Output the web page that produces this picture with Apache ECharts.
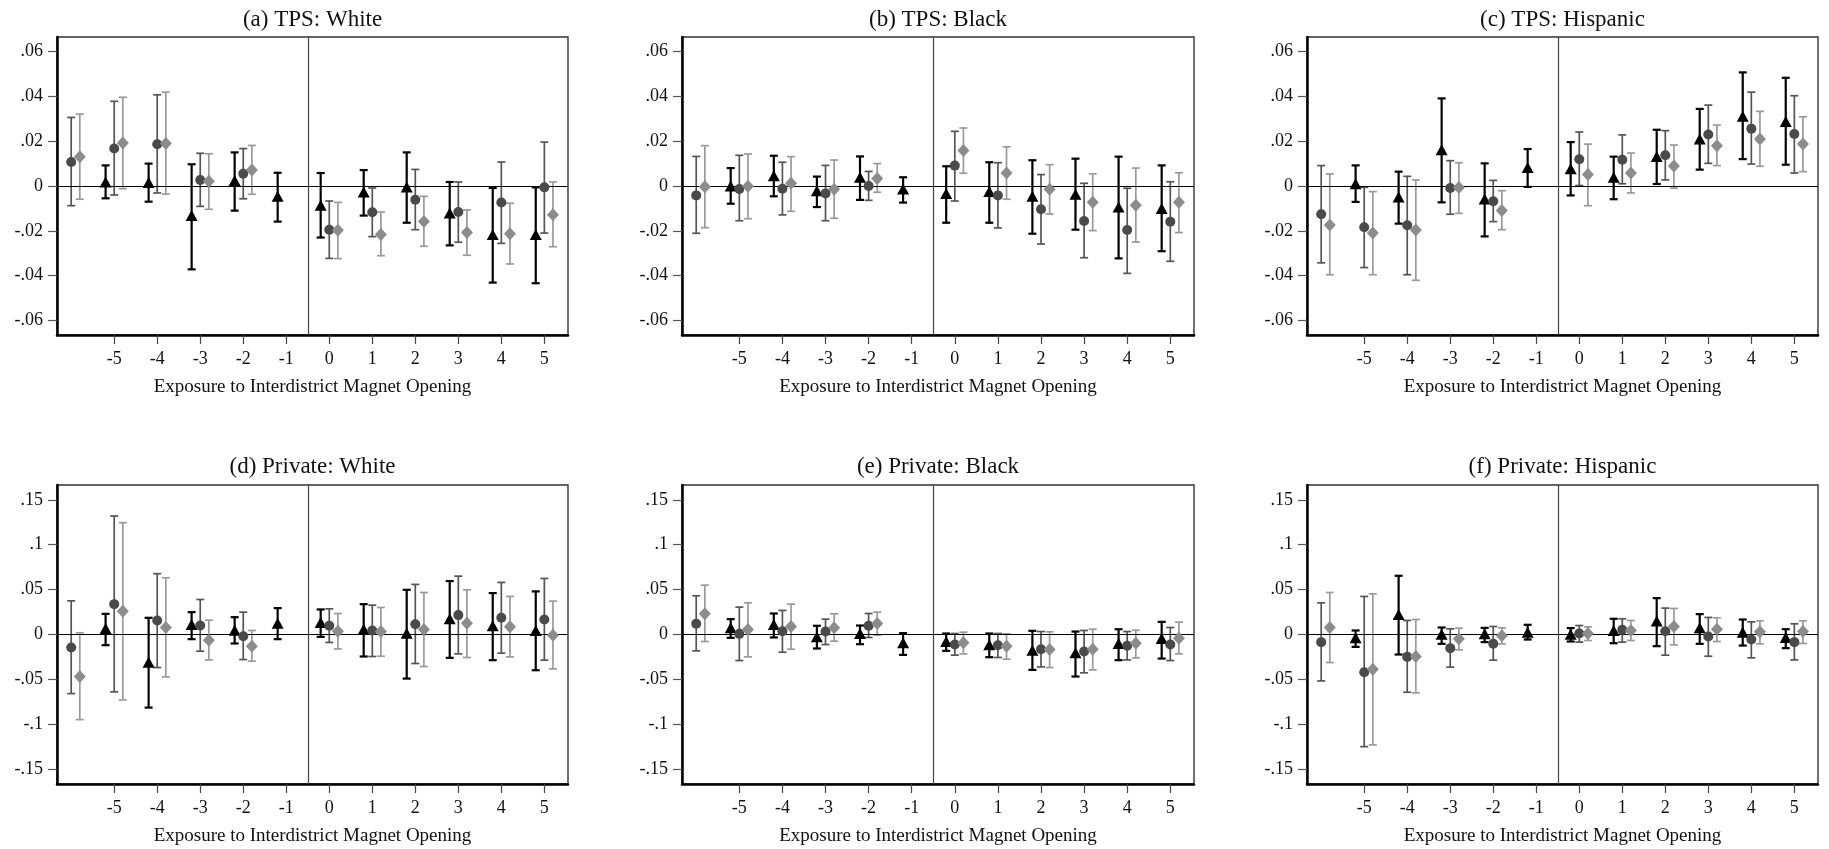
<!DOCTYPE html>
<html>
<head>
<meta charset="utf-8">
<script src="https://cdn.jsdelivr.net/npm/echarts@6/dist/echarts.min.js"></script>
<style>
html,body{margin:0;padding:0;background:#fff;}
#chart{width:1829px;height:849px;}
</style>
</head>
<body>
<div id="chart"></div>
<script>
// Event time for every array entry below
const times = [-6,-5,-4,-3,-2,-1,0,1,2,3,4,5];
const xTicks = [-5,-4,-3,-2,-1,0,1,2,3,4,5];
const yTicksTop = [-0.06,-0.04,-0.02,0,0.02,0.04,0.06];
const yTicksBottom = [-0.15,-0.1,-0.05,0,0.05,0.1,0.15];
const titles = ['(a) TPS: White','(b) TPS: Black','(c) TPS: Hispanic','(d) Private: White','(e) Private: Black','(f) Private: Hispanic'];
const xName = 'Exposure to Interdistrict Magnet Opening';

// Panel (a) TPS: White
const aTriEst = [null,0.0018,0.0016,-0.0132,0.0024,-0.0046,-0.0086,-0.0027,-0.0004,-0.0120,-0.0217,-0.0216];
const aTriLo  = [null,-0.0055,-0.0070,-0.0372,-0.0110,-0.0159,-0.0230,-0.0132,-0.0164,-0.0265,-0.0431,-0.0434];
const aTriHi  = [null,0.0092,0.0100,0.0097,0.0150,0.0059,0.0058,0.0071,0.0150,0.0018,-0.0009,-0.0006];
const aCirEst = [0.0107,0.0167,0.0186,0.0027,0.0055,null,-0.0195,-0.0117,-0.0061,-0.0116,-0.0074,-0.0006];
const aCirLo  = [-0.0088,-0.0040,-0.0031,-0.0091,-0.0057,null,-0.0323,-0.0226,-0.0195,-0.0251,-0.0256,-0.0210];
const aCirHi  = [0.0306,0.0378,0.0407,0.0146,0.0167,null,-0.0067,-0.0009,0.0074,0.0018,0.0107,0.0196];
const aDiaEst = [0.0131,0.0192,0.0190,0.0021,0.0071,null,-0.0198,-0.0216,-0.0158,-0.0207,-0.0213,-0.0128];
const aDiaLo  = [-0.0059,-0.0012,-0.0036,-0.0104,-0.0037,null,-0.0324,-0.0311,-0.0269,-0.0309,-0.0348,-0.0271];
const aDiaHi  = [0.0321,0.0396,0.0419,0.0144,0.0181,null,-0.0073,-0.0116,-0.0046,-0.0107,-0.0077,0.0018];

// Panel (b) TPS: Black
const bTriEst = [null,0.0000,0.0046,-0.0021,0.0039,-0.0013,-0.0034,-0.0024,-0.0046,-0.0037,-0.0094,-0.0100];
const bTriLo  = [null,-0.0079,-0.0046,-0.0094,-0.0062,-0.0074,-0.0164,-0.0164,-0.0213,-0.0195,-0.0323,-0.0291];
const bTriHi  = [null,0.0080,0.0135,0.0042,0.0132,0.0039,0.0088,0.0106,0.0115,0.0122,0.0131,0.0092];
const bCirEst = [-0.0042,-0.0013,-0.0012,-0.0033,0.0000,null,0.0091,-0.0042,-0.0104,-0.0156,-0.0196,-0.0159];
const bCirLo  = [-0.0211,-0.0155,-0.0129,-0.0155,-0.0064,null,-0.0067,-0.0187,-0.0259,-0.0320,-0.0390,-0.0336];
const bCirHi  = [0.0132,0.0137,0.0106,0.0092,0.0065,null,0.0244,0.0104,0.0051,0.0012,-0.0010,0.0019];
const bDiaEst = [-0.0003,-0.0001,0.0012,-0.0015,0.0034,null,0.0158,0.0058,-0.0015,-0.0073,-0.0086,-0.0073];
const bDiaLo  = [-0.0186,-0.0146,-0.0113,-0.0144,-0.0028,null,0.0057,-0.0059,-0.0125,-0.0199,-0.0250,-0.0208];
const bDiaHi  = [0.0180,0.0143,0.0131,0.0116,0.0100,null,0.0259,0.0175,0.0095,0.0054,0.0080,0.0059];

// Panel (c) TPS: Hispanic
const cTriEst = [null,0.0010,-0.0049,0.0162,-0.0058,0.0083,0.0077,0.0039,0.0132,0.0210,0.0311,0.0288];
const cTriLo  = [null,-0.0071,-0.0168,-0.0073,-0.0225,-0.0004,-0.0042,-0.0059,0.0009,0.0073,0.0120,0.0095];
const cTriHi  = [null,0.0092,0.0064,0.0391,0.0101,0.0165,0.0196,0.0131,0.0251,0.0344,0.0507,0.0483];
const cCirEst = [-0.0126,-0.0184,-0.0175,-0.0009,-0.0068,null,0.0119,0.0117,0.0137,0.0230,0.0256,0.0232];
const cCirLo  = [-0.0343,-0.0364,-0.0396,-0.0126,-0.0159,null,0.0002,0.0010,0.0027,0.0101,0.0098,0.0058];
const cCirHi  = [0.0091,-0.0006,0.0043,0.0113,0.0025,null,0.0241,0.0228,0.0247,0.0361,0.0419,0.0403];
const cDiaEst = [-0.0174,-0.0210,-0.0196,-0.0007,-0.0109,null,0.0051,0.0058,0.0089,0.0180,0.0210,0.0187];
const cDiaLo  = [-0.0396,-0.0396,-0.0421,-0.0122,-0.0195,null,-0.0088,-0.0031,-0.0010,0.0091,0.0088,0.0064];
const cDiaHi  = [0.0054,-0.0025,0.0027,0.0104,-0.0021,null,0.0187,0.0147,0.0183,0.0272,0.0333,0.0309];

// Panel (d) Private: White
const dTriEst = [null,0.0067,-0.0309,0.0112,0.0048,0.0126,0.0134,0.0059,0.0015,0.0175,0.0097,0.0045];
const dTriLo  = [null,-0.0119,-0.0814,-0.0052,-0.0100,-0.0052,-0.0026,-0.0245,-0.0491,-0.0260,-0.0286,-0.0398];
const dTriHi  = [null,0.0230,0.0186,0.0249,0.0193,0.0294,0.0279,0.0338,0.0498,0.0595,0.0461,0.0480];
const dCirEst = [-0.0145,0.0338,0.0156,0.0100,-0.0019,null,0.0097,0.0045,0.0115,0.0216,0.0186,0.0167];
const dCirLo  = [-0.0658,-0.0639,-0.0368,-0.0186,-0.0279,null,-0.0089,-0.0245,-0.0323,-0.0216,-0.0208,-0.0286];
const dCirHi  = [0.0375,0.1320,0.0677,0.0390,0.0249,null,0.0286,0.0327,0.0558,0.0650,0.0580,0.0624];
const dDiaEst = [-0.0468,0.0260,0.0078,-0.0063,-0.0130,null,0.0037,0.0033,0.0056,0.0126,0.0085,-0.0007];
const dDiaLo  = [-0.0948,-0.0729,-0.0472,-0.0283,-0.0297,null,-0.0160,-0.0242,-0.0357,-0.0256,-0.0249,-0.0383];
const dDiaHi  = [0.0019,0.1245,0.0632,0.0160,0.0045,null,0.0234,0.0301,0.0468,0.0498,0.0424,0.0372];

// Panel (e) Private: Black
const eTriEst = [null,0.0074,0.0112,-0.0026,0.0011,-0.0093,-0.0078,-0.0115,-0.0175,-0.0204,-0.0100,-0.0045];
const eTriLo  = [null,-0.0037,-0.0033,-0.0156,-0.0108,-0.0227,-0.0182,-0.0253,-0.0394,-0.0468,-0.0286,-0.0268];
const eTriHi  = [null,0.0171,0.0234,0.0097,0.0100,0.0015,0.0011,0.0011,0.0041,0.0033,0.0059,0.0141];
const eCirEst = [0.0119,0.0007,0.0037,0.0033,0.0097,null,-0.0112,-0.0119,-0.0164,-0.0190,-0.0126,-0.0112];
const eCirLo  = [-0.0182,-0.0290,-0.0197,-0.0112,-0.0033,null,-0.0230,-0.0256,-0.0361,-0.0427,-0.0283,-0.0290];
const eCirHi  = [0.0431,0.0305,0.0268,0.0171,0.0234,null,0.0011,0.0011,0.0033,0.0045,0.0033,0.0078];
const eDiaEst = [0.0230,0.0056,0.0089,0.0074,0.0123,null,-0.0093,-0.0130,-0.0167,-0.0164,-0.0097,-0.0041];
const eDiaLo  = [-0.0078,-0.0249,-0.0164,-0.0074,-0.0007,null,-0.0216,-0.0275,-0.0368,-0.0394,-0.0260,-0.0216];
const eDiaHi  = [0.0550,0.0353,0.0338,0.0230,0.0249,null,0.0026,0.0007,0.0030,0.0059,0.0048,0.0138];

// Panel (f) Private: Hispanic
const fTriEst = [null,-0.0037,0.0223,0.0004,0.0007,0.0026,0.0004,0.0045,0.0149,0.0074,0.0026,-0.0033];
const fTriLo  = [null,-0.0138,-0.0223,-0.0104,-0.0085,-0.0056,-0.0078,-0.0097,-0.0130,-0.0104,-0.0123,-0.0152];
const fTriHi  = [null,0.0045,0.0654,0.0078,0.0074,0.0108,0.0071,0.0175,0.0405,0.0227,0.0167,0.0059];
const fCirEst = [-0.0085,-0.0420,-0.0249,-0.0152,-0.0104,null,0.0011,0.0052,0.0037,-0.0022,-0.0056,-0.0085];
const fCirLo  = [-0.0517,-0.1249,-0.0643,-0.0364,-0.0286,null,-0.0085,-0.0085,-0.0230,-0.0242,-0.0260,-0.0283];
const fCirHi  = [0.0353,0.0424,0.0156,0.0063,0.0089,null,0.0100,0.0175,0.0294,0.0190,0.0141,0.0119];
const fDiaEst = [0.0078,-0.0387,-0.0245,-0.0048,-0.0015,null,0.0011,0.0045,0.0089,0.0059,0.0030,0.0033];
const fDiaLo  = [-0.0312,-0.1230,-0.0650,-0.0171,-0.0104,null,-0.0067,-0.0067,-0.0115,-0.0078,-0.0104,-0.0100];
const fDiaHi  = [0.0468,0.0453,0.0167,0.0071,0.0074,null,0.0085,0.0156,0.0290,0.0186,0.0152,0.0152];

const panels = [
  {tri:[aTriEst,aTriLo,aTriHi], cir:[aCirEst,aCirLo,aCirHi], dia:[aDiaEst,aDiaLo,aDiaHi]},
  {tri:[bTriEst,bTriLo,bTriHi], cir:[bCirEst,bCirLo,bCirHi], dia:[bDiaEst,bDiaLo,bDiaHi]},
  {tri:[cTriEst,cTriLo,cTriHi], cir:[cCirEst,cCirLo,cCirHi], dia:[cDiaEst,cDiaLo,cDiaHi]},
  {tri:[dTriEst,dTriLo,dTriHi], cir:[dCirEst,dCirLo,dCirHi], dia:[dDiaEst,dDiaLo,dDiaHi]},
  {tri:[eTriEst,eTriLo,eTriHi], cir:[eCirEst,eCirLo,eCirHi], dia:[eDiaEst,eDiaLo,eDiaHi]},
  {tri:[fTriEst,fTriLo,fTriHi], cir:[fCirEst,fCirLo,fCirHi], dia:[fDiaEst,fDiaLo,fDiaHi]}
];

// ----- layout & style -----
const FONT = '"Liberation Serif", "Times New Roman", serif';
const colLeft = [57, 682, 1307];
const colWidth = [511, 512, 511];
const rowTop = [37, 485];
const rowHeight = [298, 299];
const titleTop = [8, 455];
const X_MIN = -6.33, X_MAX = 5.55;
const Y_LIM = [0.0665, 0.1665];

const styles = {
  tri: {offset:-0.2, symbol:'triangle', size:[12,11], color:'#000000', bar:'#000000', lw:2.2, cap:8},
  cir: {offset:0, symbol:'circle', size:10, color:'#4a4a4a', bar:'#555555', lw:1.7, cap:8},
  dia: {offset:0.2, symbol:'diamond', size:[12,13], color:'#8c8c8c', bar:'#9a9a9a', lw:1.7, cap:8}
};

function fmt(v){
  if (Math.abs(v) < 1e-9) return '0';
  let s = String(Math.round(v*1000)/1000);
  return s.replace('0.', '.');
}

function errRenderer(st){
  return function(params, api){
    const x = api.value(0), lo = api.value(1), hi = api.value(2);
    const p1 = api.coord([x, lo]);
    const p2 = api.coord([x, hi]);
    const h = st.cap/2;
    const style = {stroke: st.bar, lineWidth: st.lw, fill: null};
    return {type:'group', children:[
      {type:'line', shape:{x1:p1[0], y1:p1[1], x2:p2[0], y2:p2[1]}, style},
      {type:'line', shape:{x1:p1[0]-h, y1:p1[1], x2:p1[0]+h, y2:p1[1]}, style},
      {type:'line', shape:{x1:p2[0]-h, y1:p2[1], x2:p2[0]+h, y2:p2[1]}, style}
    ]};
  };
}

const grid = [], xAxis = [], yAxis = [], series = [], title = [];
panels.forEach((p, i) => {
  const r = Math.floor(i/3), c = i % 3;
  grid.push({left: colLeft[c], top: rowTop[r], width: colWidth[c], height: rowHeight[r],
    show: true, borderColor: '#333', borderWidth: 1.4, containLabel: false});
  title.push({text: titles[i], left: colLeft[c] + colWidth[c]/2, top: titleTop[r], textAlign: 'center', padding: 0,
    textStyle: {fontFamily: FONT, fontSize: 23, fontWeight: 'normal', color: '#111'}});
  xAxis.push({type:'value', gridIndex:i, min:X_MIN, max:X_MAX,
    name: xName, nameLocation:'middle', nameGap: 43,
    nameTextStyle:{fontFamily:FONT, fontSize:19, color:'#111'},
    axisLine:{show:true, onZero:false, lineStyle:{color:'#000', width:2.5}},
    axisTick:{show:true, length:9, customValues:xTicks, lineStyle:{color:'#444', width:1.2}},
    axisLabel:{customValues:xTicks, margin:15, fontFamily:FONT, fontSize:18, color:'#111', formatter:(v)=>String(v)},
    splitLine:{show:false}});
  const yt = r === 0 ? yTicksTop : yTicksBottom;
  yAxis.push({type:'value', gridIndex:i, min:-Y_LIM[r], max:Y_LIM[r],
    axisLine:{show:true, onZero:false, lineStyle:{color:'#000', width:2.5}},
    axisTick:{show:true, length:9, customValues:yt, lineStyle:{color:'#555', width:1.2}},
    axisLabel:{customValues:yt, margin:14, fontFamily:FONT, fontSize:18, color:'#111', formatter:fmt},
    splitLine:{show:false}});

  ['tri','cir','dia'].forEach((k) => {
    const st = styles[k];
    const [est, lo, hi] = p[k];
    const bars = [], pts = [];
    times.forEach((t, j) => {
      if (est[j] === null) return;
      bars.push([t + st.offset, lo[j], hi[j]]);
      pts.push([t + st.offset, est[j]]);
    });
    series.push({type:'custom', xAxisIndex:i, yAxisIndex:i, renderItem: errRenderer(st),
      data: bars, z: 3, silent:true, encode:{x:0, y:[1,2]}});
    series.push({type:'scatter', xAxisIndex:i, yAxisIndex:i, data: pts, symbol: st.symbol,
      symbolSize: st.size, itemStyle:{color: st.color, opacity:1}, z: 5, silent:true});
  });
  // reference lines: zero line and pre/post divider
  series.push({type:'scatter', xAxisIndex:i, yAxisIndex:i, data:[], silent:true, z:2,
    markLine:{silent:true, symbol:['none','none'], label:{show:false}, animation:false,
      data:[
        {yAxis:0, lineStyle:{color:'#000', width:1.2, type:'solid'}},
        {xAxis:-0.5, lineStyle:{color:'#444', width:1.2, type:'solid'}}
      ]}});
});

const chart = echarts.init(document.getElementById('chart'), null, {renderer:'canvas'});
chart.setOption({backgroundColor:'#fff', animation:false, title, grid, xAxis, yAxis, series});
</script>
</body>
</html>
